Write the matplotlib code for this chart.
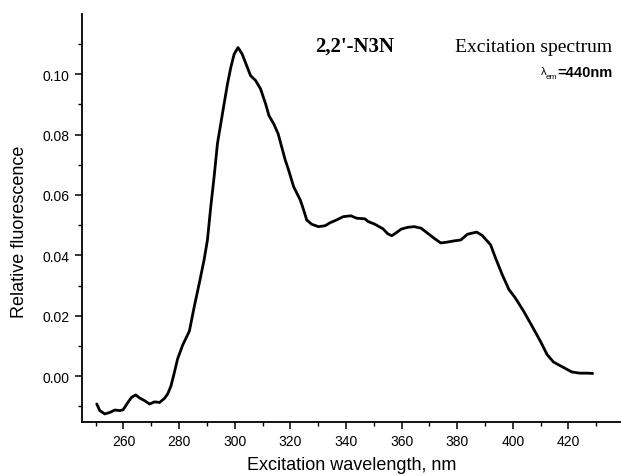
import matplotlib
matplotlib.use("Agg")
import matplotlib.pyplot as plt
from matplotlib.ticker import MultipleLocator, FormatStrFormatter

wavelength = [250.4, 251.5, 253.3, 255.1, 256.9, 258.7, 259.9, 261.6, 262.9, 264.4,
              265.8, 267.6, 269.4, 271.2, 273.0, 274.8, 275.9, 277.1, 278.3, 279.5,
              281.3, 283.7, 285.5, 287.3, 289.0, 290.2, 291.4, 292.6, 293.8, 295.0,
              296.2, 297.4, 298.6, 299.8, 301.2, 302.7, 304.1, 305.7, 307.5, 309.3,
              311.1, 312.3, 314.0, 315.6, 318.2, 319.4, 321.2, 323.6, 324.8, 325.9,
              327.7, 330.1, 332.5, 334.3, 336.6, 339.0, 341.8, 343.8, 346.8, 348.0,
              350.4, 353.3, 355.1, 356.5, 358.1, 359.9, 362.3, 364.6, 367.0, 369.4,
              371.8, 374.1, 376.5, 378.9, 381.3, 383.7, 387.0, 389.0, 392.0, 393.8,
              396.2, 398.6, 400.9, 403.9, 406.9, 409.9, 412.3, 414.6, 418.2, 421.2,
              424.1, 427.1, 428.7]
fluorescence = [-0.0092, -0.0114, -0.0125, -0.0120, -0.0112, -0.0114, -0.0111, -0.0087, -0.0070, -0.0062,
                -0.0072, -0.0081, -0.0092, -0.0085, -0.0087, -0.0073, -0.0059, -0.0032, 0.0012, 0.0058,
                0.0103, 0.0149, 0.0232, 0.0309, 0.0385, 0.0451, 0.0561, 0.0660, 0.0770, 0.0836,
                0.0902, 0.0967, 0.1022, 0.1066, 0.1088, 0.1066, 0.1033, 0.0995, 0.0979, 0.0951,
                0.0902, 0.0863, 0.0836, 0.0803, 0.0715, 0.0682, 0.0627, 0.0583, 0.0550, 0.0517,
                0.0503, 0.0495, 0.0498, 0.0508, 0.0517, 0.0528, 0.0531, 0.0523, 0.0521, 0.0512,
                0.0503, 0.0488, 0.0471, 0.0465, 0.0475, 0.0487, 0.0493, 0.0495, 0.0490, 0.0473,
                0.0456, 0.0441, 0.0444, 0.0448, 0.0451, 0.0470, 0.0477, 0.0466, 0.0435, 0.0391,
                0.0336, 0.0287, 0.0259, 0.0215, 0.0166, 0.0116, 0.0072, 0.0047, 0.0029, 0.0014,
                0.0010, 0.0010, 0.0009]

xticks = [260, 280, 300, 320, 340, 360, 380, 400, 420]
yticks = [0.00, 0.02, 0.04, 0.06, 0.08, 0.10]

sans = ['Liberation Sans', 'DejaVu Sans']
serif = ['Liberation Serif', 'DejaVu Serif']

W, H = 621, 477
fig = plt.figure(figsize=(W / 100, H / 100), dpi=100)
ax = fig.add_axes([82 / W, 54.5 / H, 1 - 82 / W, (422.5 - 15) / H])
ax.plot(wavelength, fluorescence, color='black', lw=2.0, solid_joinstyle='round',
        solid_capstyle='round')

ax.set_xlim(245.1, 438.9)
ax.set_ylim(-0.015, 0.1199)
ax.set_xticks(xticks)
ax.set_yticks(yticks)
ax.xaxis.set_minor_locator(MultipleLocator(10))
ax.yaxis.set_minor_locator(MultipleLocator(0.01))
ax.yaxis.set_major_formatter(FormatStrFormatter('%.2f'))
for s in ['top', 'right']:
    ax.spines[s].set_visible(False)
for s in ['left', 'bottom']:
    ax.spines[s].set_linewidth(1.3)
ax.tick_params(which='major', direction='out', length=5, width=1.1, labelsize=10, pad=4)
ax.tick_params(which='minor', direction='out', length=3, width=1.0)
for lab in ax.get_xticklabels() + ax.get_yticklabels():
    lab.set_family(sans)

ax.set_xlabel('Excitation wavelength, nm', family=sans, fontsize=13)
ax.set_ylabel('Relative fluorescence', family=sans, fontsize=13)
ax.xaxis.set_label_coords(0.5, (422.5 - 466) / 407.5)
ax.yaxis.set_label_coords((20 - 82) / (W - 82), (422.5 - 231.5) / 407.5)
ax.xaxis.label.set_va('center')
ax.yaxis.label.set_va('center')

fig.text(355 / W, 1 - 47 / H, "2,2'-N3N", family=serif, fontweight='bold', fontsize=15,
         ha='center', va='center')
fig.text(534 / W, 1 - 47 / H, 'Excitation spectrum', family=serif, fontsize=14,
         ha='center', va='center')

t_val = fig.text(613 / W, 1 - 73 / H, '=440nm', family=sans, fontsize=10.5,
                 fontweight='bold', ha='right', va='center')
fig.canvas.draw()
bb = t_val.get_window_extent()
x_left = bb.x0 / W
t_em = fig.text(x_left - 0.5 / W, 1 - 77.5 / H, 'em', family=sans, fontsize=6,
                ha='right', va='center')
fig.canvas.draw()
bb2 = t_em.get_window_extent()
fig.text(bb2.x0 / W + 0.5 / W, 1 - 72 / H, '\u03bb', family=sans, fontsize=8,
         ha='right', va='center')

fig.savefig('out.png', dpi=100)
